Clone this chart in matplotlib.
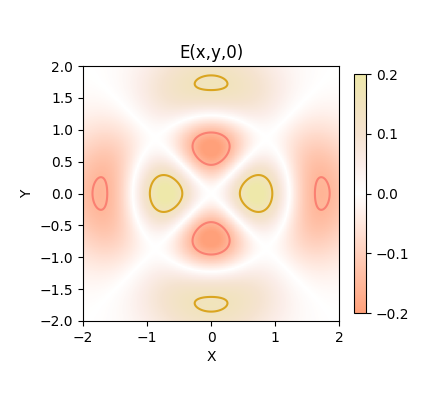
import numpy as np
import matplotlib
matplotlib.use("Agg")
import matplotlib.pyplot as plt
from matplotlib.colors import LinearSegmentedColormap

# campo del modo (Laguerre-Gauss p=1, l=2) en z=0
amplitud = 0.35
orden_radial = 1
orden_azimutal = 2
niveles = [-0.15, 0.15]
colores_niveles = ["salmon", "goldenrod"]
limites = [-2, 2]

# mapa de color: salmon -> blanco -> beige -> palegoldenrod
colores_mapa = [
    (0.0, "lightsalmon"),
    (0.5, "white"),
    (0.625, "#fbede8"),
    (0.75, "#f5e3d0"),
    (0.875, "#f1e3be"),
    (1.0, "palegoldenrod"),
]

x = np.linspace(limites[0], limites[1], 400)
y = np.linspace(limites[0], limites[1], 400)
X, Y = np.meshgrid(x, y)
r2 = X**2 + Y**2
theta = np.arctan2(Y, X)
# L_1^2(2r^2) = 3 - 2r^2
E = amplitud * r2 * (orden_azimutal + orden_radial - 2 * r2) * np.exp(-r2) * np.cos(orden_azimutal * theta)

cmap = LinearSegmentedColormap.from_list("campo", colores_mapa)

fig = plt.figure(figsize=(4.26, 4.0), dpi=100)
ax = fig.add_axes([0.195, 0.1975, 0.601, 0.6375])
cax = fig.add_axes([0.831, 0.217, 0.028, 0.598])

im = ax.pcolormesh(X, Y, E, cmap=cmap, vmin=-0.2, vmax=0.2, shading="auto")
ax.contour(X, Y, E, levels=niveles, colors=colores_niveles, linewidths=1.5)
ax.set_xlim(limites)
ax.set_ylim(limites)
ax.set_title("E(x,y,0)")
ax.set_xlabel("X")
ax.set_ylabel("Y")
ax.set_xticks([-2, -1, 0, 1, 2])
ax.set_yticks(np.arange(-2, 2.01, 0.5))

cb = fig.colorbar(im, cax=cax)
cb.set_ticks([-0.2, -0.1, 0.0, 0.1, 0.2])

fig.savefig("out.png", dpi=100)
